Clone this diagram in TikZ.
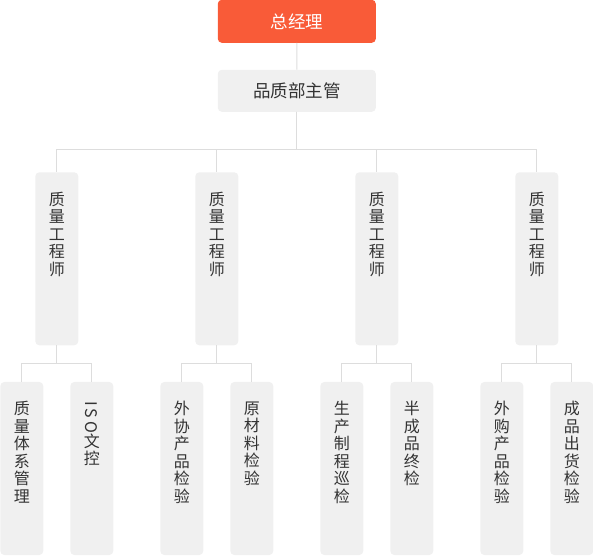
\documentclass[tikz,border=0pt]{standalone}
\usepackage{fontspec}
\setmainfont{Noto Sans CJK SC}
\usepackage{graphicx}

\definecolor{headorange}{HTML}{F95B38}
\definecolor{boxgray}{HTML}{F0F0F0}
\definecolor{linegray}{HTML}{DDDDDD}
\definecolor{textgray}{HTML}{333333}

% vertical text in a tall box, set from the top
\newcommand{\coltext}[1]{\parbox[c][173pt][t]{43pt}{\centering\fontsize{16pt}{17.5pt}\selectfont\vspace*{19.5pt}#1}}

\begin{document}
\begin{tikzpicture}[
          level 1/.style={level distance=69.5pt,
            edge from parent path={(\tikzparentnode.south) -- (\tikzchildnode.north)}},
          level 2/.style={sibling distance=160pt, level distance=168pt,
            edge from parent path={(\tikzparentnode.south) -- +(0,-37.5pt) -| (\tikzchildnode.north)}},
          level 3/.style={sibling distance=70pt, level distance=209.7pt,
            edge from parent path={(\tikzparentnode.south) -- +(0,-18pt) -| (\tikzchildnode.north)}},
          edge from parent/.style={draw, linegray, line width=1pt},
          every node/.style={inner sep=0pt, rounded corners=4pt, text=textgray},
          headbox/.style={fill=headorange, text=white, minimum width=158pt, minimum height=43pt,
            font=\fontsize{17.5pt}{20pt}\selectfont},
          mgrbox/.style={fill=boxgray, minimum width=158pt, minimum height=42pt,
            font=\fontsize{17.5pt}{20pt}\selectfont},
          colbox/.style={fill=boxgray, minimum width=43pt, minimum height=173pt}
        ]
        \useasboundingbox (0,0) rectangle (593pt,556pt);
        % general manager
        \node[headbox] (gm) at (296.8pt,534.7pt) {总经理}
          child {
            % quality manager
            node[mgrbox] (qm) {品质部主管}
            child {
              % engineer 1
              node[colbox] (qe1) {\coltext{质\\量\\工\\程\\师}}
              child { node[colbox] (t11) {\coltext{质\\量\\体\\系\\管\\理}} }
              child { node[colbox] (t12) {\coltext{\rotatebox[origin=c]{-90}{I\,S\,O}\\文\\控}} }
            }
            child {
              % engineer 2
              node[colbox] (qe2) {\coltext{质\\量\\工\\程\\师}}
              child { node[colbox] (t21) {\coltext{外\\协\\产\\品\\检\\验}} }
              child { node[colbox] (t22) {\coltext{原\\材\\料\\检\\验}} }
            }
            child {
              % engineer 3
              node[colbox] (qe3) {\coltext{质\\量\\工\\程\\师}}
              child { node[colbox] (t31) {\coltext{生\\产\\制\\程\\巡\\检}} }
              child { node[colbox] (t32) {\coltext{半\\成\\品\\终\\检}} }
            }
            child {
              % engineer 4
              node[colbox] (qe4) {\coltext{质\\量\\工\\程\\师}}
              child { node[colbox] (t41) {\coltext{外\\购\\产\\品\\检\\验}} }
              child { node[colbox] (t42) {\coltext{成\\品\\出\\货\\检\\验}} }
            }
          };
      \end{tikzpicture}
\end{document}
